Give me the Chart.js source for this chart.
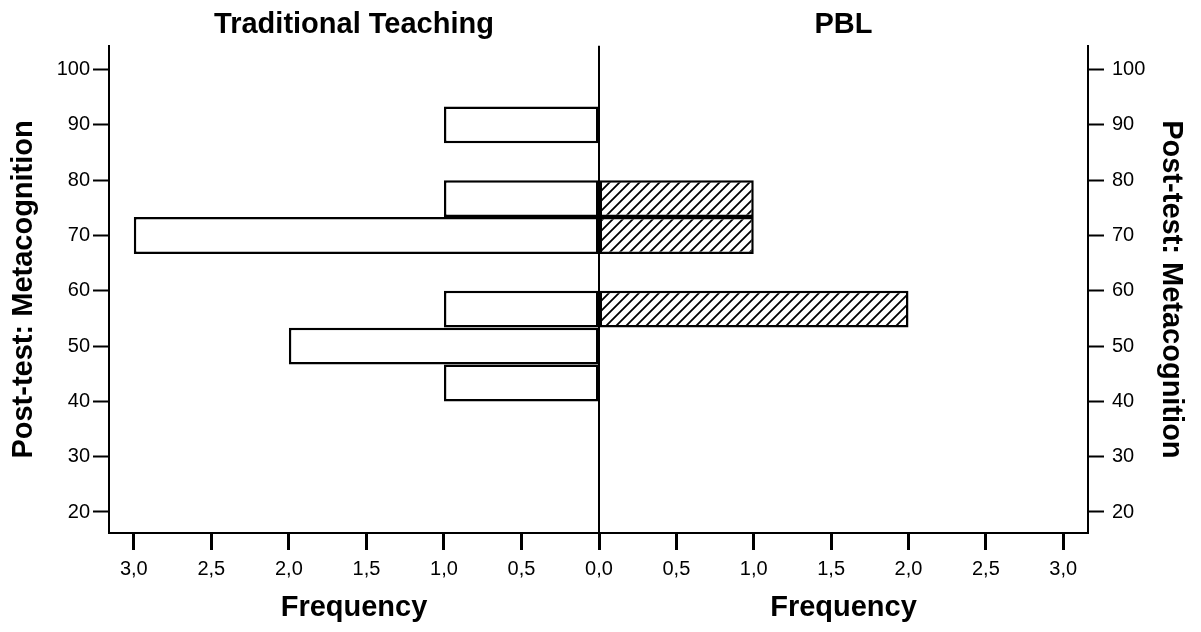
<!DOCTYPE html>
<html>
<head>
<meta charset="utf-8">
<script src="https://cdn.jsdelivr.net/npm/chart.js@4/dist/chart.umd.min.js"></script>
<style>
  html, body { margin: 0; padding: 0; background: #fff; }
  body { width: 1201px; height: 632px; position: relative; overflow: hidden; }
  #wl { position: absolute; left: 0; top: 0; width: 640px; height: 632px; }
  #wr { position: absolute; left: 592px; top: 0; width: 609px; height: 632px; }
</style>
</head>
<body>
<div id="wl"><canvas id="cl"></canvas></div>
<div id="wr"><canvas id="cr"></canvas></div>
<script>
// ---- data ----
const binCenters = [43.33, 50, 56.67, 63.33, 70, 76.67, 83.33, 90];
const traditionalFreq = [1, 2, 1, 0, 3, 1, 0, 1];
const pblFreq = [0, 0, 2, 0, 1, 1, 0, 0];
const yTicks = [20, 30, 40, 50, 60, 70, 80, 90, 100];
const xTicks = [0, 0.5, 1, 1.5, 2, 2.5, 3];
const leftTitle = 'Traditional Teaching';
const rightTitle = 'PBL';
const xTitle = 'Frequency';
const yTitle = 'Post-test: Metacognition';

Chart.defaults.font.family = '"Liberation Sans", Arial, sans-serif';
Chart.defaults.color = '#000';

function fmt(v) { return Number(v).toFixed(1).replace('.', ','); }

// hatch pattern
function hatch() {
  const c = document.createElement('canvas');
  c.width = 10; c.height = 10;
  const g = c.getContext('2d');
  g.fillStyle = '#fff'; g.fillRect(0, 0, 10, 10);
  g.strokeStyle = '#000'; g.lineWidth = 1.8;
  g.beginPath();
  g.moveTo(-1, 11); g.lineTo(11, -1);
  g.moveTo(-6, 6); g.lineTo(6, -6);
  g.moveTo(4, 16); g.lineTo(16, 4);
  g.stroke();
  return g.createPattern(c, 'repeat');
}

const titleFont = { size: 29, weight: 'bold' };
const tickFont = { size: 20 };

function xScale(reverse, hideZero) {
  return {
    type: 'linear', reverse: reverse, min: 0, max: 3.16,
    afterBuildTicks: s => { s.ticks = xTicks.map(v => ({ value: v })); },
    afterFit: s => { s.height = 99; },
    ticks: {
      font: tickFont, padding: 7, color: '#000', maxRotation: 0, autoSkip: false,
      callback: v => (hideZero && v === 0) ? '' : fmt(v)
    },
    grid: { drawOnChartArea: false, drawTicks: true, tickLength: 17, tickWidth: 3, tickColor: '#000' },
    border: { display: true, color: '#000', width: 2 },
    title: { display: true, text: xTitle, font: titleFont, color: '#000', padding: { top: 0, bottom: 7 } }
  };
}

function yScale(position, width, titlePad, tickPad) {
  return {
    type: 'linear', position: position, min: 16.2, max: 104.3, offset: false,
    afterBuildTicks: s => { s.ticks = yTicks.map(v => ({ value: v })); },
    afterFit: s => { s.width = width; },
    ticks: { font: tickFont, padding: tickPad, color: '#000', autoSkip: false },
    grid: { offset: false, drawOnChartArea: false, drawTicks: true, tickLength: 16, tickWidth: 2, tickColor: '#000' },
    border: { display: true, color: '#000', width: 2 },
    title: { display: true, text: yTitle, font: titleFont, color: '#000', padding: { top: titlePad, bottom: 0 } }
  };
}

const centerLine = {
  id: 'centerLine',
  afterDatasetsDraw(chart) {
    const x = chart.scales.x.getPixelForValue(0);
    const a = chart.chartArea;
    const ctx = chart.ctx;
    ctx.save();
    ctx.strokeStyle = '#000'; ctx.lineWidth = 2;
    ctx.beginPath(); ctx.moveTo(x, a.top); ctx.lineTo(x, a.bottom); ctx.stroke();
    ctx.restore();
  }
};

function makeChart(id, values, fill, reverse, title, yPos, yWidth, yTitlePad, yTickPad, padding, hideZero, plugins) {
  return new Chart(document.getElementById(id), {
    type: 'bar',
    data: {
      datasets: [{
        data: binCenters.map((c, i) => ({ x: values[i], y: c })),
        backgroundColor: fill,
        borderColor: '#000',
        borderWidth: 2.5,
        borderSkipped: false,
        inflateAmount: 0,
        barPercentage: 1,
        categoryPercentage: 1
      }]
    },
    options: {
      indexAxis: 'y',
      responsive: true,
      maintainAspectRatio: false,
      animation: false,
      events: [],
      layout: { padding: padding },
      scales: {
        x: xScale(reverse, hideZero),
        y: yScale(yPos, yWidth, yTitlePad, yTickPad)
      },
      plugins: {
        legend: { display: false },
        tooltip: { enabled: false },
        title: { display: true, text: title, font: titleFont, color: '#000', fullSize: false, padding: { top: 8, bottom: 3 } }
      }
    },
    plugins: plugins
  });
}

makeChart('cl', traditionalFreq, '#fff', true, leftTitle, 'left', 109, 7, 3,
  { left: 0, right: 41, top: 0, bottom: 0 }, false, [centerLine]);
makeChart('cr', pblFreq, hatch(), false, rightTitle, 'right', 113, 13, 8,
  { left: 0, right: 0, top: 0, bottom: 0 }, true, []);
</script>
</body>
</html>
